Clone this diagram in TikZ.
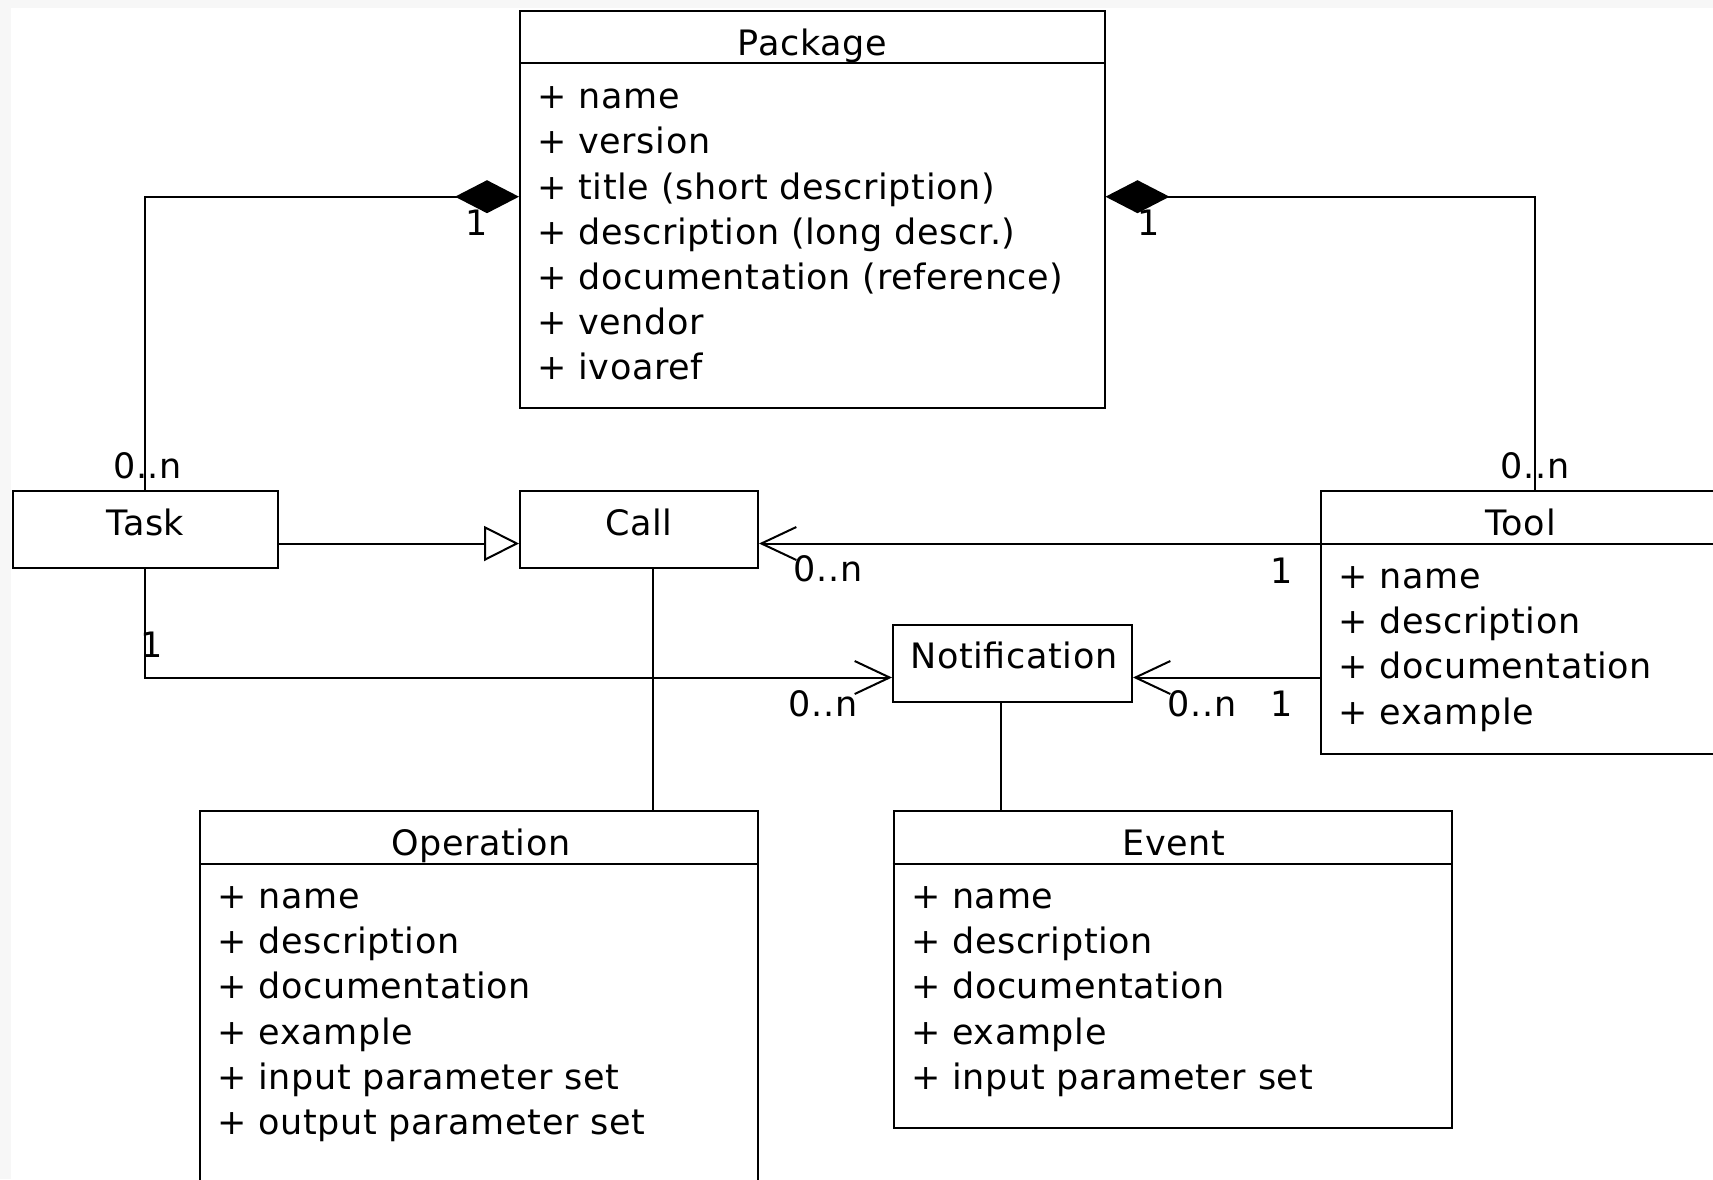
\documentclass[tikz,border=0pt]{standalone}
\usepackage{fontspec}
\setmainfont{DejaVu Sans}[LetterSpace=1.8]
\usetikzlibrary{arrows.meta,fit}
\newcommand\fsz{\fontsize{17.5pt}{21pt}\selectfont}
\begin{document}
\begin{tikzpicture}[x=0.5pt,y=-0.5pt,
  box/.style={draw, line width=1pt, rectangle, inner sep=0pt},
  ttl/.style={anchor=base, inner sep=0pt, font=\fsz},
  attr/.style={anchor=base west, inner sep=0pt, font=\fsz},
  lbl/.style={anchor=base, inner sep=0pt, font=\fsz},
  conn/.style={line width=1pt},
  compo/.style={conn, -{Diamond[length=32pt,width=16.5pt]}},
  gen/.style={conn, -{Triangle[open,length=17.5pt,width=17.5pt,fill=white]}},
  assoc/.style={conn, -{Straight Barb[length=17.5pt,width=16.5pt]}},
  sep/.style={line width=1pt}
]
\useasboundingbox (0,0) rectangle (1713,1179);
\clip (0,0) rectangle (1713,1179);
\fill[white] (0,0) rectangle (1713,1179);
\fill[black!3] (0,0) rectangle (1713,8);
\fill[black!3] (0,0) rectangle (11,1179);

% level coordinates
\coordinate (yA) at (0,543.5);
\coordinate (yB) at (0,677.5);
\coordinate (yC) at (0,196.7);
\coordinate (xCall) at (653.3,0);
\coordinate (xNotif) at (1000.5,0);

% boxes
\node[box, fit={(520,11) (1104.5,407.5)}] (pkg) {};
\node[box, fit={(12.5,490.5) (278,568)}] (task) {};
\node[box, fit={(520,490.5) (758,568)}] (call) {};
\node[box, fit={(1320.8,490.5) (1730,754)}] (tool) {};
\node[box, fit={(893,624.5) (1132,702)}] (notif) {};
\node[box, fit={(200,810.6) (757.5,1200)}] (op) {};
\node[box, fit={(893.7,810.6) (1452,1128)}] (event) {};

% separators
\draw[sep] (pkg.west |- 0,63.4) -- (pkg.east |- 0,63.4);
\draw[sep] (tool.west |- 0,544) -- (tool.east |- 0,544);
\draw[sep] (op.west |- 0,864.2) -- (op.east |- 0,864.2);
\draw[sep] (event.west |- 0,864.2) -- (event.east |- 0,864.2);

% titles
\node[ttl] (tPkg) at (812.3,55.4) {Package};
\node[ttl] (tTask) at (145.5,535) {Task};
\node[ttl] (tCall) at (639,535) {Call};
\node[ttl] (tTool) at (1520.8,535) {Tool};
\node[ttl] (tNotif) at (1014,668.3) {Notification};
\node[ttl] (tOp) at (481,855) {Operation};
\node[ttl] (tEvent) at (1174,855) {Event};

% Package attributes
\node[attr] (p1) at (537,108.7) {+ name};
\node[attr] (p2) at (537,153.9) {+ version};
\node[attr] (p3) at (537,199.1) {+ title (short description)};
\node[attr] (p4) at (537,244.3) {+ description (long descr.)};
\node[attr] (p5) at (537,289.5) {+ documentation (reference)};
\node[attr] (p6) at (537,334.7) {+ vendor};
\node[attr] (p7) at (537,379.9) {+ ivoaref};

% Tool attributes
\node[attr] (to1) at (1338,588.3) {+ name};
\node[attr] (to2) at (1338,633.6) {+ description};
\node[attr] (to3) at (1338,678.9) {+ documentation};
\node[attr] (to4) at (1338,724.2) {+ example};

% Operation attributes
\node[attr] (o1) at (217,908.5) {+ name};
\node[attr] (o2) at (217,953.7) {+ description};
\node[attr] (o3) at (217,998.9) {+ documentation};
\node[attr] (o4) at (217,1044.1) {+ example};
\node[attr] (o5) at (217,1089.3) {+ input parameter set};
\node[attr] (o6) at (217,1134.5) {+ output parameter set};

% Event attributes
\node[attr] (e1) at (910.7,908.5) {+ name};
\node[attr] (e2) at (910.7,953.7) {+ description};
\node[attr] (e3) at (910.7,998.9) {+ documentation};
\node[attr] (e4) at (910.7,1044.1) {+ example};
\node[attr] (e5) at (910.7,1089.3) {+ input parameter set};

% connectors
\draw[compo] (task.north) |- (pkg.west |- yC);
\draw[compo] (tool.north -| 1535,0) |- (pkg.east |- yC);
\draw[gen] (task.east |- yA) -- (call.west |- yA);
\draw[assoc] (tool.west |- yA) -- (call.east |- yA);
\draw[assoc] (task.south) |- (notif.west |- yB);
\draw[assoc] (tool.west |- yB) -- (notif.east |- yB);
\draw[conn] (call.south -| xCall) -- (op.north -| xCall);
\draw[conn] (notif.south -| xNotif) -- (event.north -| xNotif);

% multiplicity labels
\node[lbl] (m1) at (477,235) {1};
\node[lbl] (m2) at (1149,235) {1};
\node[lbl] (m3) at (147.5,478.3) {0..n};
\node[lbl] (m4) at (1535,478.3) {0..n};
\node[lbl] (m5) at (828,581.7) {0..n};
\node[lbl] (m6) at (1282,583.3) {1};
\node[lbl] (m7) at (152,657.3) {1};
\node[lbl] (m8) at (823,716.7) {0..n};
\node[lbl] (m9) at (1202,716.7) {0..n};
\node[lbl] (m10) at (1281.5,716.7) {1};
\end{tikzpicture}
\end{document}
